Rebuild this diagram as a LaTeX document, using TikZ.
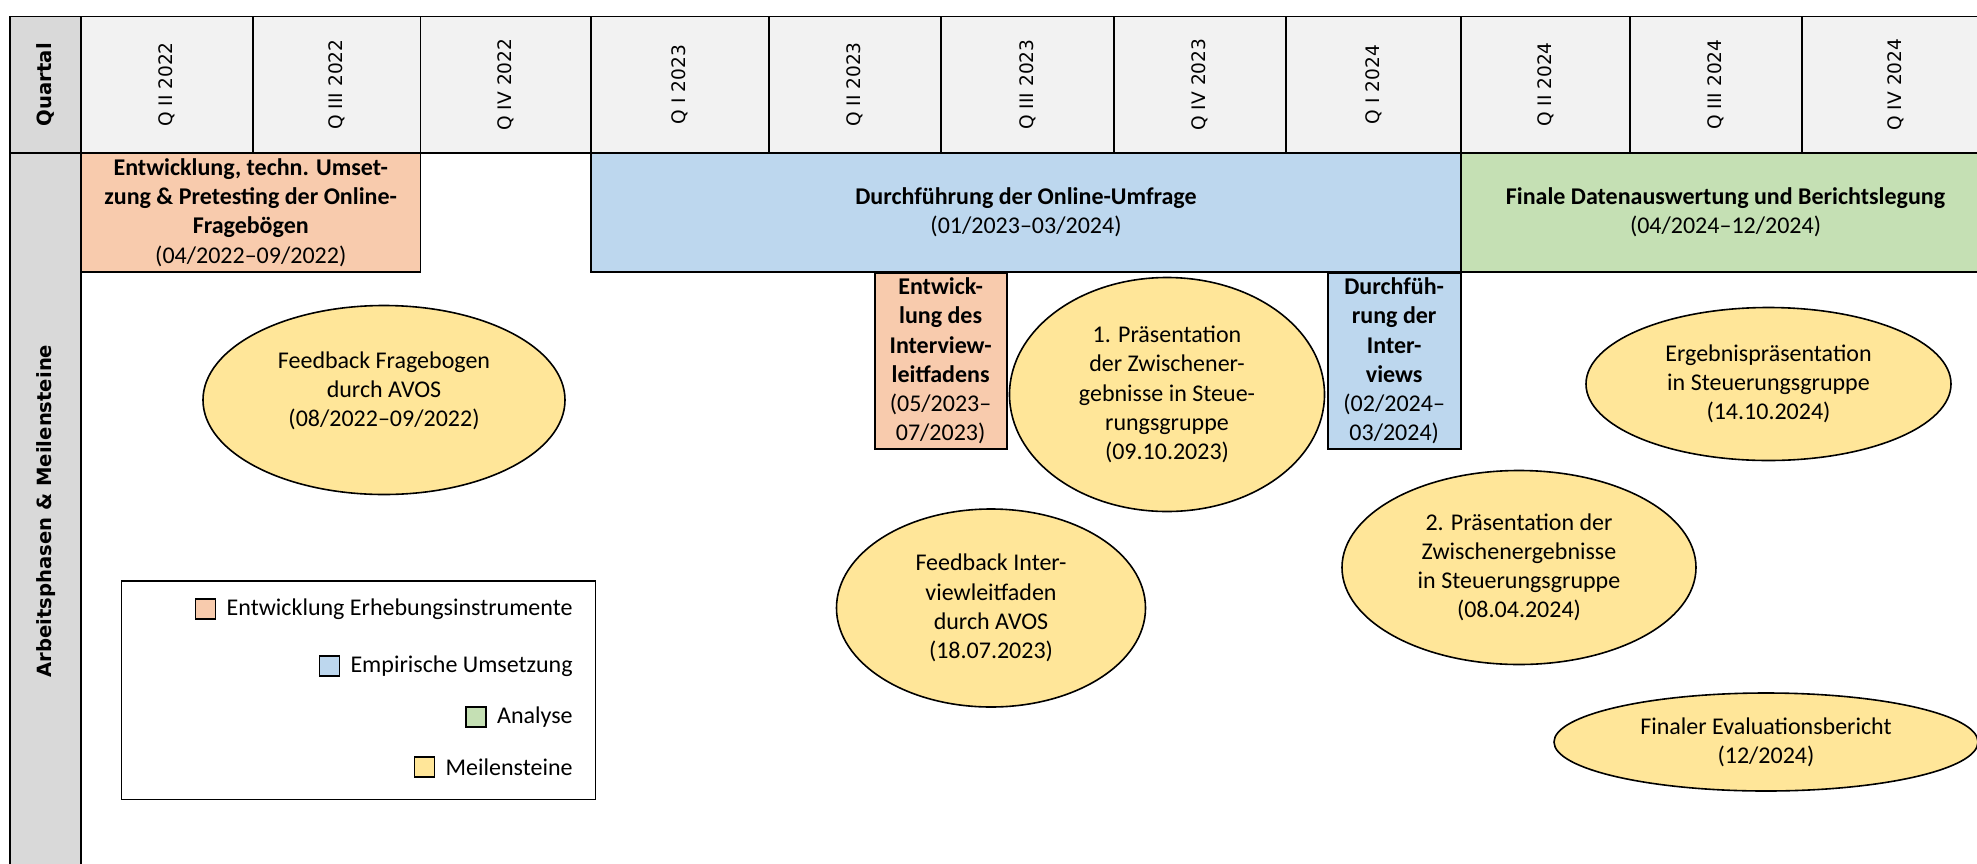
\documentclass[tikz,border=0pt]{standalone}
\usepackage{fontspec}
\setmainfont{Carlito}
\newfontfamily\hdrfont{DejaVu Sans}
\usetikzlibrary{shapes.geometric}
\definecolor{cOr}{HTML}{F8CBAD}
\definecolor{cBl}{HTML}{BDD7EE}
\definecolor{cGr}{HTML}{C5E0B4}
\definecolor{cYe}{HTML}{FFE699}
\definecolor{hgray}{HTML}{F2F2F2}
\definecolor{lgray}{HTML}{D9D9D9}
\begin{document}
\begin{tikzpicture}[x=0.5pt,y=-0.5pt,
  every node/.style={font=\fontsize{12}{14.6}\selectfont, inner sep=0pt, align=center},
  grid/.style={draw=black, line width=0.9pt},
  qlabel/.style={rotate=90, font=\hdrfont\fontsize{9.3}{11}\selectfont},
  sidelabel/.style={rotate=90, font=\hdrfont\bfseries\fontsize{9.8}{12}\selectfont},
  bar/.style={draw=black, line width=0.9pt, rectangle},
  mstone/.style={ellipse, draw=black, line width=0.8pt, fill=cYe},
  legsq/.style={draw=black, line width=0.75pt, minimum size=10pt},
]
\useasboundingbox (0,0) rectangle (1977,863);
\clip (0,0) rectangle (1977,863);

% side label column
\draw[grid, fill=lgray] (10,16.5) rectangle (81,152.7);
\draw[grid, fill=lgray] (10,152.7) rectangle (81,900);
\node[sidelabel] (quartal) at (45.5,84.6) {Quartal};
\node[sidelabel] (arbeit) at (45.7,511) {Arbeitsphasen \& Meilensteine};

% header
\foreach \l/\r/\t [count=\i] in {81/253/Q II 2022, 253/420.5/Q III 2022, 420.5/591/Q IV 2022,
  591/769/Q I 2023, 769/941/Q II 2023, 941/1114/Q III 2023, 1114/1286/Q IV 2023,
  1286/1461/Q I 2024, 1461/1630/Q II 2024, 1630/1802/Q III 2024, 1802/1990/Q IV 2024} {
  \draw[grid, fill=hgray] (\l,16.5) rectangle (\r,152.7);
  \node[qlabel] (q\i) at ({(\l+\r)/2},84.6) {\t};
}

% phase bars
\node[bar, fill=cOr, minimum width=169.75pt, minimum height=59.5pt] (b1) at (250.75,212.5)
  {\textbf{Entwicklung, techn. Umset-}\\\textbf{zung \& Pretesting der Online-}\\\textbf{Fragebögen}\\(04/2022–09/2022)};
\node[bar, fill=cBl, minimum width=435pt, minimum height=59.5pt] (b2) at (1026,212.5)
  {\textbf{Durchführung der Online-Umfrage}\\(01/2023–03/2024)};
\node[bar, fill=cGr, minimum width=264.5pt, minimum height=59.5pt] (b3) at (1725.5,212.5)
  {\textbf{Finale Datenauswertung und Berichtslegung}\\(04/2024–12/2024)};

\node[bar, fill=cOr, minimum width=66pt, minimum height=88pt] (b4) at (940.6,361)
  {\textbf{Entwick-}\\\textbf{lung des}\\\textbf{Interview-}\\\textbf{leitfadens}\\(05/2023–\\07/2023)};
\node[bar, fill=cBl, minimum width=66.5pt, minimum height=88pt] (b5) at (1394.2,361)
  {\textbf{Durchfüh-}\\\textbf{rung der}\\\textbf{Inter-}\\\textbf{views}\\(02/2024–\\03/2024)};

% milestones
\node[mstone, minimum width=181pt, minimum height=94.5pt] (m1) at (384,400) {};
\node (m1text) at (384,391) {Feedback Fragebogen\\durch AVOS\\(08/2022–09/2022)};
\node[mstone, minimum width=157.5pt, minimum height=117pt] (m2) at (1167,394.5)
  {1. Präsentation\\der Zwischener-\\gebnisse in Steue-\\rungsgruppe\\(09.10.2023)};
\node[mstone, minimum width=154.5pt, minimum height=99pt] (m3) at (991,608)
  {Feedback Inter-\\viewleitfaden\\durch AVOS\\(18.07.2023)};
\node[mstone, minimum width=177pt, minimum height=97pt] (m4) at (1519,567.5)
  {2. Präsentation der\\Zwischenergebnisse\\in Steuerungsgruppe\\(08.04.2024)};
\node[mstone, minimum width=182.5pt, minimum height=76.5pt] (m5) at (1768.5,384)
  {Ergebnispräsentation\\in Steuerungsgruppe\\(14.10.2024)};
\node[mstone, minimum width=212pt, minimum height=49pt] (m6) at (1766,742)
  {Finaler Evaluationsbericht\\(12/2024)};

% legend
\node[draw=black, line width=0.9pt, minimum width=237pt, minimum height=109.25pt] (leg) at (358.5,690.25) {};
\node[anchor=east] (l1) at (573,609) {Entwicklung Erhebungsinstrumente};
\node[anchor=east] (l2) at (573,666) {Empirische Umsetzung};
\node[anchor=east] (l3) at (573,717) {Analyse};
\node[anchor=east] (l4) at (573,767) {Meilensteine};
\node[legsq, fill=cOr, anchor=east] (s1) at ([xshift=-5pt]l1.west) {};
\node[legsq, fill=cBl, anchor=east] (s2) at ([xshift=-5pt]l2.west) {};
\node[legsq, fill=cGr, anchor=east] (s3) at ([xshift=-5pt]l3.west) {};
\node[legsq, fill=cYe, anchor=east] (s4) at ([xshift=-5pt]l4.west) {};
\end{tikzpicture}
\end{document}
